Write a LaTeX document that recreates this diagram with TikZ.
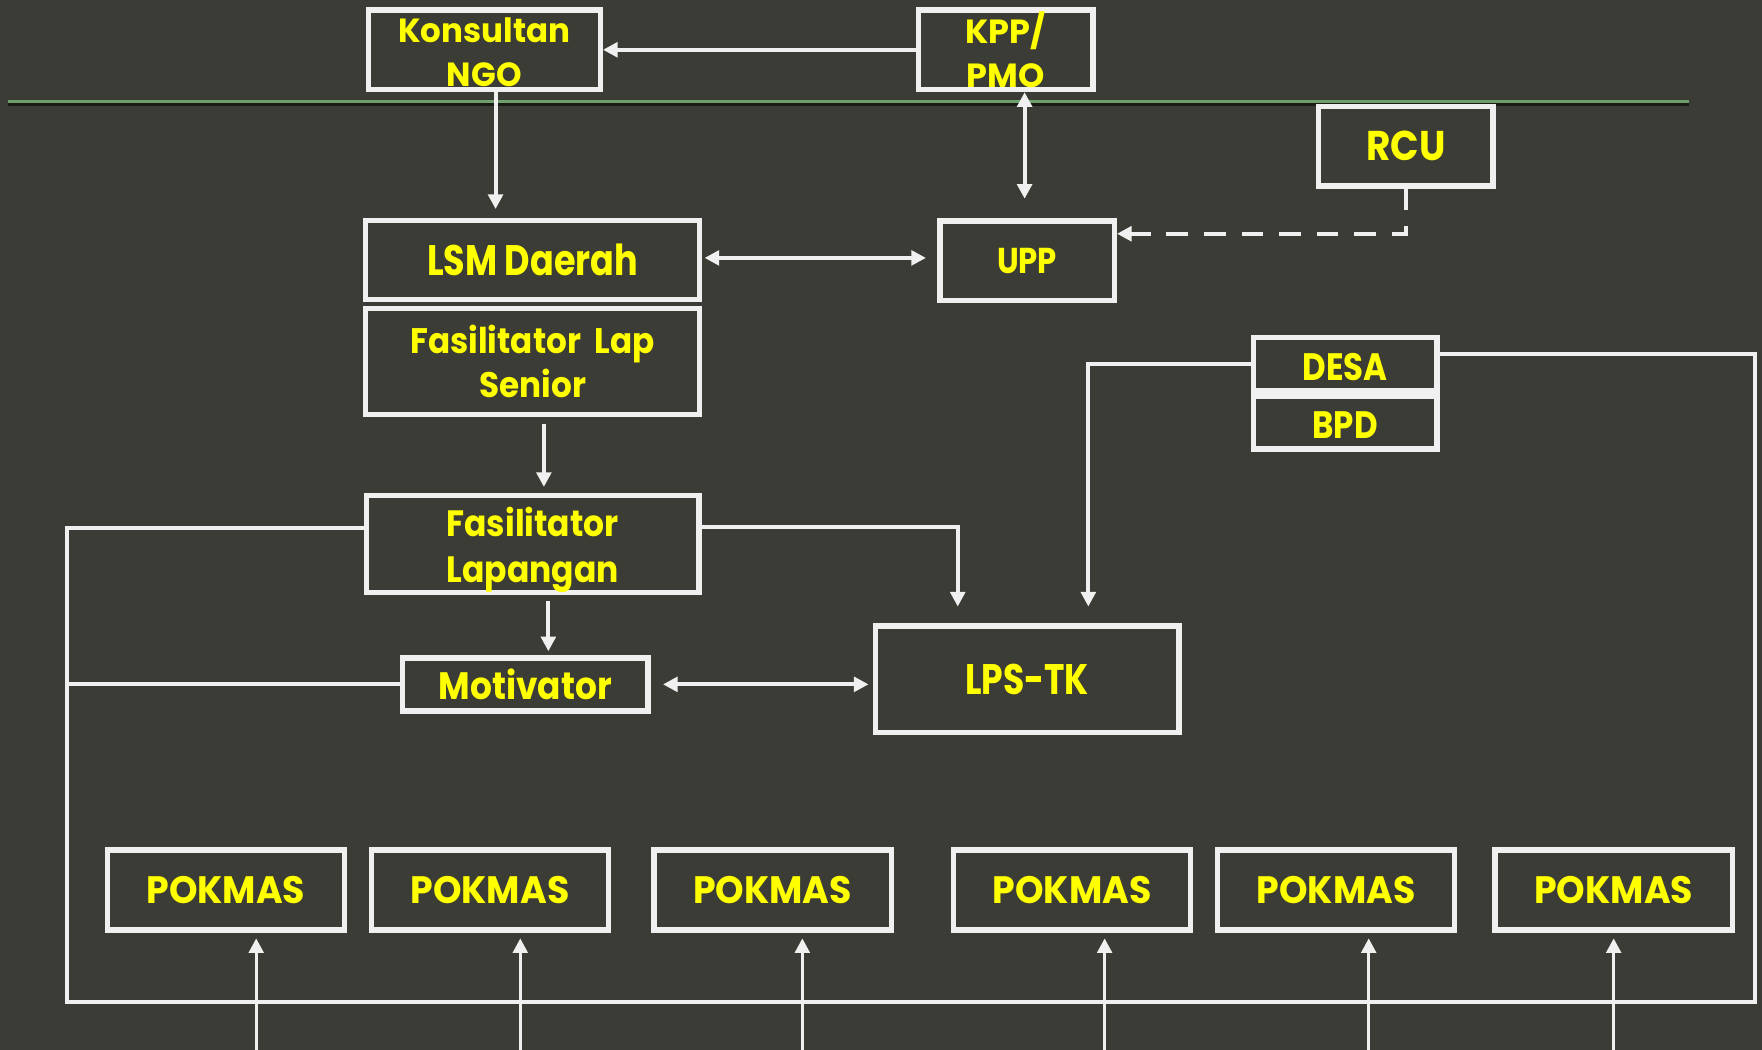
\documentclass[tikz,border=0pt]{standalone}
\usepackage{fontspec}
\newfontfamily\boxfont{Poppins}
\usetikzlibrary{arrows.meta, positioning}
\definecolor{bgc}{RGB}{60,60,54}
\definecolor{lnc}{RGB}{240,240,240}
\definecolor{txc}{RGB}{255,255,0}
\definecolor{sepc}{RGB}{110,160,110}
\definecolor{shdc}{RGB}{26,26,22}
\newcommand{\lift}[1]{\rule{0pt}{#1}}
\tikzset{
  box/.style 2 args={rectangle, draw=lnc, line width=2.4pt, fill=bgc, text=txc, align=center, inner sep=0pt, minimum width=#1, minimum height=#2},
  tx/.style args={#1/#2/#3}{font=\boxfont\bfseries\fontsize{#1}{#2}\selectfont\addfontfeatures{FakeStretch=#3}},
  ln/.style ={draw=lnc, line width=1.8pt},
  fl/.style ={ln, -{Triangle[length=6.5pt, width=6.5pt]}},
  fl2/.style={ln, {Triangle[length=6.5pt, width=6.5pt]}-{Triangle[length=6.5pt, width=6.5pt]}},
}

\begin{document}
\begin{tikzpicture}[x=0.5pt, y=-0.5pt]
  \fill[bgc] (0,0) rectangle (1568,934);
  \useasboundingbox (0,0) rectangle (1568,934);
  \draw[shdc, line width=1.4pt] (7,92.9) -- (1503,92.9);
  \draw[sepc, line width=1.2pt] (7,90.2) -- (1503,90.2);

  \node[box={103.2pt}{35.35pt}, tx=14.9/19.5/0.97] (kons) at (431,44.3) {\lift{13.5pt}Konsultan\\NGO};
  \node[box={77.6pt}{35.35pt}, tx=14.9/19.5/1.0] (kpp) at (895,44.3) {KPP/\\PMO};
  \node[box={77.6pt}{35.35pt}, tx=18.5/18.5/0.9] (rcu) at (1251,130) {RCU};
  \node[box={148.6pt}{35.1pt}, tx=19/19/0.82] (lsm) at (474,231.5) {LSM Daerah};
  \node[box={148.6pt}{47.1pt}, tx=15.8/19.7/0.92, below=1.5pt of lsm] (fls) {Fasilitator~~Lap\\Senior};
  \node[box={77.6pt}{35.35pt}, tx=16/16/0.855] (upp) at (914,232) {UPP};
  \node[box={81.6pt}{23.6pt}, tx=17/17/0.85] (desa) at (1197,324) {\lift{14.5pt}DESA};
  \node[box={81.6pt}{23.6pt}, tx=17/17/0.85, below=0pt of desa] (bpd) {\lift{14.5pt}BPD};
  \node[box={148.1pt}{41.6pt}, tx=16.3/20.3/0.9] (fl) at (474,484) {\lift{18.5pt}Fasilitator\\Lapangan};
  \node[box={109.1pt}{23.6pt}, tx=17/17/0.9] (mot) at (467.5,609) {Motivator};
  \node[box={135.1pt}{47.25pt}, tx=19/19/0.81] (lps) at (914,604.4) {LPS-TK};

  \coordinate (lpTL) at (60,470);
  \coordinate (lpBL) at (60,891.5);
  \coordinate (lpBR) at (1562,891.5);
  \coordinate (lpTR) at (1562,315);

  \draw[fl] (kpp.west) -- (kons.east);
  \draw[fl, shorten >=4pt] ([xshift=5pt]kons.south) -- ([xshift=5pt]kons.south |- lsm.north);
  \draw[fl2, shorten >=8.7pt] ([xshift=8.4pt]kpp.south) -- ([xshift=8.4pt]kpp.south |- upp.north);
  \draw[fl2, shorten <=1pt, shorten >=5pt] ([yshift=1pt]lsm.east) -- ([yshift=1pt]lsm.east -| upp.west);
  \draw[fl, dash pattern=on 9.7pt off 7pt] (rcu.south) |- ([yshift=12pt]upp.east);
  \draw[fl, shorten <=3pt, shorten >=2.5pt] ([xshift=5pt]fls.south) -- ([xshift=5pt]fls.south |- fl.north);
  \draw[fl, shorten <=2.5pt, shorten >=1.75pt] ([xshift=7pt]fl.south) -- ([xshift=7pt]fl.south |- mot.north);
  \draw[fl, shorten >=7.5pt] ([yshift=7.5pt]fl.east) -| ([xshift=-30.85pt]lps.north);
  \draw[fl, shorten >=7.5pt] (desa.west) -| ([xshift=27.25pt]lps.north);
  \draw[fl2, shorten <=5.5pt, shorten >=1.8pt] (mot.east) -- (mot.east -| lps.west);
  \draw[ln] ([yshift=7pt]fl.west) -- (lpTL) -- (lpBL) -- (lpBR) -- (lpTR) -- ([yshift=4.5pt]desa.east);
  \draw[ln] (mot.west) -- (mot.west -| lpTL);

  \foreach \i/\cx/\ax in {1/201/228, 2/436/463, 3/687.5/714, 4/954/983, 5/1189/1218, 6/1436/1436} {
    \node[box={105.6pt}{35.6pt}, tx=17/17/0.95] (pk\i) at (\cx,792) {POKMAS};
    \coordinate (pb\i) at (\ax,934);
    \draw[fl, line width=1.5pt, shorten >=2.5pt] (pb\i) -- (pb\i |- pk\i.south);
  }
\end{tikzpicture}
\end{document}
